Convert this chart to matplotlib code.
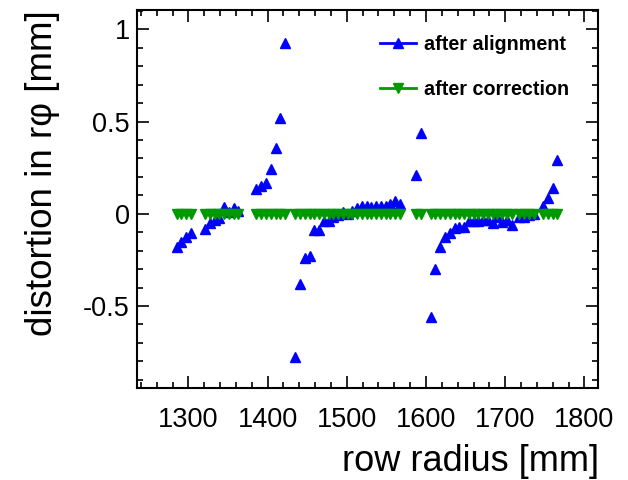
import matplotlib
matplotlib.use("Agg")
import matplotlib.pyplot as plt
from matplotlib.lines import Line2D
from matplotlib.ticker import MultipleLocator, FormatStrFormatter

plt.rcParams['font.family'] = ['Liberation Sans', 'DejaVu Sans']
plt.rcParams['axes.unicode_minus'] = False

# -----------------------------
# data
# -----------------------------
radius = [1285, 1291, 1297, 1303,
          1321, 1327, 1333, 1339, 1345, 1351, 1357, 1363,
          1386, 1392, 1398, 1404, 1410, 1416, 1422,
          1435, 1441, 1447, 1453, 1459, 1465, 1471, 1477, 1483, 1489,
          1495, 1501, 1507, 1513, 1519, 1525, 1531, 1537, 1543, 1549,
          1555, 1561, 1567,
          1588, 1594,
          1606, 1612, 1618, 1624, 1630, 1636, 1642, 1648, 1654, 1660,
          1666, 1672, 1678, 1684, 1690, 1696, 1702, 1708,
          1718, 1724, 1730, 1736,
          1748, 1754, 1760, 1766]

after_alignment = [-0.181, -0.152, -0.126, -0.104,
                   -0.080, -0.048, -0.033, -0.022, 0.035, 0.012, 0.033, 0.015,
                   0.135, 0.153, 0.166, 0.244, 0.358, 0.520, 0.927,
                   -0.777, -0.379, -0.238, -0.231, -0.087, -0.087, -0.040, -0.040, -0.018, -0.005,
                   0.010, 0.000, 0.015, 0.030, 0.045, 0.040, 0.035, 0.045, 0.040, 0.045,
                   0.055, 0.070, 0.055,
                   0.213, 0.440,
                   -0.560, -0.298, -0.181, -0.127, -0.105, -0.076, -0.069, -0.069, -0.040, -0.040,
                   -0.040, -0.033, -0.033, -0.049, -0.018, -0.046, -0.036, -0.063,
                   -0.018, -0.018, -0.009, 0.000,
                   0.040, 0.087, 0.141, 0.293]

after_correction = [0.0, 0.0, 0.0, 0.0,
                    0.0, 0.0, 0.0, 0.0, 0.0, 0.0, 0.0, 0.0,
                    0.0, 0.0, 0.0, 0.0, 0.0, 0.0, 0.0,
                    0.0, 0.0, 0.0, 0.0, 0.0, 0.0, 0.0, 0.0, 0.0, 0.0,
                    0.0, 0.0, 0.0, 0.0, 0.0, 0.0, 0.0, 0.0, 0.0, 0.0,
                    0.0, 0.0, 0.0,
                    0.0, 0.0,
                    0.0, 0.0, 0.0, 0.0, 0.0, 0.0, 0.0, 0.0, 0.0, 0.0,
                    0.0, 0.0, 0.0, 0.0, 0.0, 0.0, 0.0, 0.0,
                    0.0, 0.0, 0.0, 0.0,
                    0.0, 0.0, 0.0, 0.0]

blue = '#0000ff'
green = '#009900'

fig = plt.figure(figsize=(6.28, 4.8), dpi=100)
ax = fig.add_axes([0.218, 0.192, 0.734, 0.787])

ax.plot(radius, after_alignment, linestyle='none', marker='^', ms=6.5,
        color=blue, mec=blue)
ax.plot(radius, after_correction, linestyle='none', marker='v', ms=6.5,
        color=green, mec=green)

ax.set_xlim(1235, 1817)
ax.set_ylim(-0.944, 1.105)

ax.xaxis.set_major_locator(MultipleLocator(100))
ax.xaxis.set_minor_locator(MultipleLocator(20))
ax.yaxis.set_major_locator(MultipleLocator(0.5))
ax.yaxis.set_minor_locator(MultipleLocator(0.1))
ax.yaxis.set_major_formatter(FormatStrFormatter('%g'))

ax.tick_params(which='both', direction='in', top=True, right=True, width=1.2)
ax.tick_params(which='major', length=8.6)
ax.tick_params(which='minor', length=4.3)
ax.tick_params(axis='x', labelsize=19.5, pad=14)
ax.tick_params(axis='y', labelsize=19.5, pad=5)
for s in ax.spines.values():
    s.set_linewidth(1.5)

ax.set_xlabel('row radius [mm]', fontsize=26, loc='right')
ax.set_ylabel('distortion in r\u03c6 [mm]', fontsize=26.5, loc='top')
ax.xaxis.set_label_coords(1.003, -0.148)
ax.yaxis.set_label_coords(-0.167, 1.0)

handles = [Line2D([], [], color=blue, lw=2, marker='^', ms=6.5),
           Line2D([], [], color=green, lw=2, marker='v', ms=6.5)]
ax.legend(handles, ['after alignment', 'after correction'],
          loc='upper left', bbox_to_anchor=(0.605, 0.927),
          bbox_transform=fig.transFigure, frameon=False,
          handlelength=1.83, handletextpad=0.4, labelspacing=1.3,
          borderpad=0, borderaxespad=0,
          prop={'weight': 'bold', 'size': 14.2})

fig.savefig('out.png', dpi=100)
